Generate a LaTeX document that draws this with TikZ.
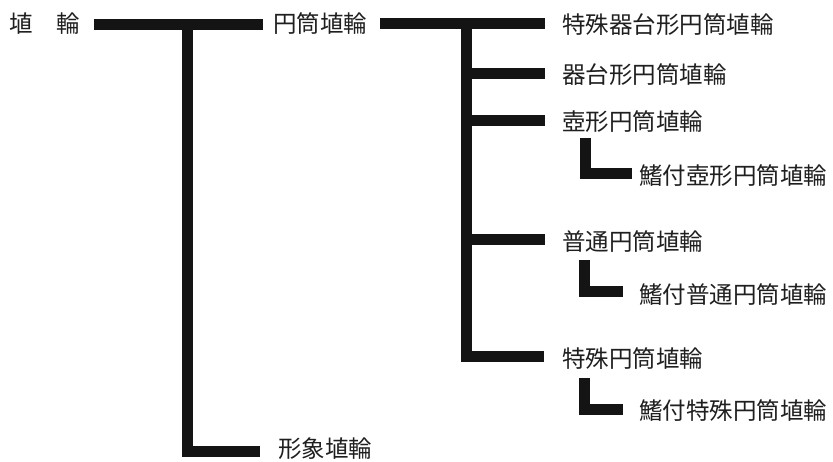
\documentclass[tikz,border=0pt]{standalone}
\usepackage{fontspec}
\newfontfamily\jpfont{Noto Sans CJK JP}
\begin{document}
\begin{tikzpicture}[x=1pt,y=-1pt,
  lbl/.style={anchor=west, inner sep=0pt, font=\jpfont\fontsize{23.5}{23.5}\selectfont, text=black!88},
  bar/.style={line width=11pt, draw=black!92, line cap=butt, line join=miter}]
\useasboundingbox (0,0) rectangle (833,462);
% nodes
\node[lbl] (root) at (9,24) {埴　輪};
\node[lbl] (ento) at (273,24) {円筒埴輪};
\node[lbl] (keisho) at (278,449) {形象埴輪};
\node[lbl] (t1) at (562,25) {特殊器台形円筒埴輪};
\node[lbl] (t2) at (562,75) {器台形円筒埴輪};
\node[lbl] (t3) at (562,122) {壺形円筒埴輪};
\node[lbl] (t3a) at (639,176) {鰭付壺形円筒埴輪};
\node[lbl] (t4) at (562,242) {普通円筒埴輪};
\node[lbl] (t4a) at (639,295) {鰭付普通円筒埴輪};
\node[lbl] (t5) at (562,359) {特殊円筒埴輪};
\node[lbl] (t5a) at (639,411) {鰭付特殊円筒埴輪};
% junction coordinates
\coordinate (j1) at (187,23);
\coordinate (j2) at (466,24);
% level 1
\draw[bar] ([xshift=14pt,yshift=-1pt]root.east) -- ([xshift=-10pt,yshift=-1pt]ento.west);
\draw[bar] (j1) |- ([xshift=-18pt,yshift=-2pt]keisho.west);
% level 2
\draw[bar] ([xshift=13pt]ento.east) -- ([xshift=-17pt]t1.west |- ento.west);
\draw[bar] (j2) |- ([xshift=-18pt,yshift=2pt]t5.west);
\draw[bar] (j2 |- t2.west) ++(0,-1) -- ([xshift=-17pt,yshift=1pt]t2.west);
\draw[bar] (j2 |- t3.west) ++(0,-1) -- ([xshift=-17pt,yshift=1pt]t3.west);
\draw[bar] (j2 |- t4.west) ++(0,-2) -- ([xshift=-17pt,yshift=2pt]t4.west);
% level 3
\draw[bar] ([xshift=23pt,yshift=-16pt]t3.west) |- ([xshift=-7pt,yshift=2pt]t3a.west);
\draw[bar] ([xshift=22pt,yshift=-18pt]t4.west) |- ([xshift=-16pt,yshift=3pt]t4a.west);
\draw[bar] ([xshift=22pt,yshift=-19pt]t5.west) |- ([xshift=-16pt,yshift=2pt]t5a.west);
\end{tikzpicture}
\end{document}
